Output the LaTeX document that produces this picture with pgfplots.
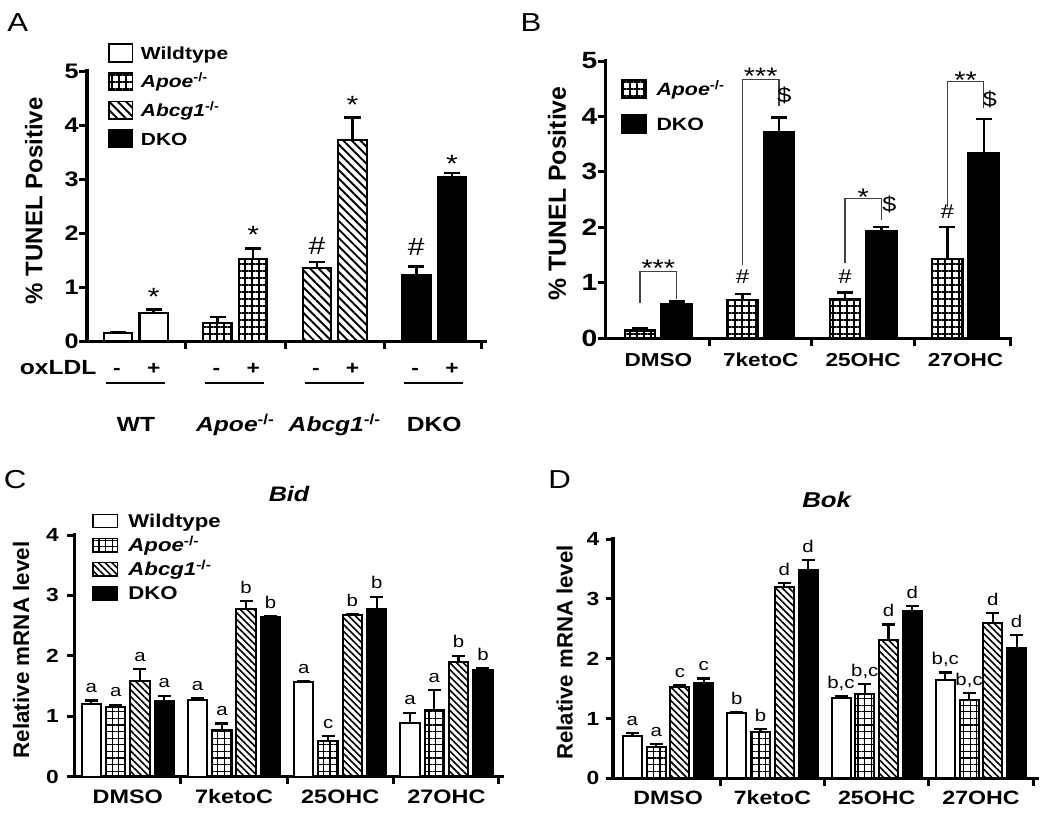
\documentclass[border=0pt]{standalone}
\usepackage{fontspec}
\setmainfont{Liberation Sans}[FakeStretch=1.2]
\newfontfamily\rotfont{Liberation Sans}
\usepackage{pgfplots}
\pgfplotsset{compat=1.18}
\usetikzlibrary{patterns.meta}
\newcommand\fs[1]{\fontsize{#1}{#1}\selectfont}
\newcommand\ko{\textsuperscript{-/-}}
\newcommand\lt[3]{\node[anchor=base, font=\fs{17}] at (axis cs:#1,#2) {#3};}
\newcommand\pmsigns[1]{%
  \node[anchor=base, font=\bfseries\fs{19}] at (axis cs:#1-0.19,-0.62) {-};
  \node[anchor=base, font=\bfseries\fs{19}] at (axis cs:#1+0.18,-0.62) {+};
  \draw[line width=2pt] (axis cs:#1-0.30,-0.775) -- (axis cs:#1+0.29,-0.775);}
\pgfplotsset{
  panel/.style={
    scale only axis, clip=false,
    axis lines=left,
    axis line style={-, line width=3.5pt, line cap=rect},
    every outer x axis line/.append style={-},
    every outer y axis line/.append style={-},
    every inner x axis line/.append style={-},
    every inner y axis line/.append style={-},
    x axis line style={-, line width=3.5pt, line cap=rect},
    y axis line style={-, line width=3.5pt, line cap=rect},
    tick align=outside,
    tick style={line width=3pt, black},
    minor tick num=0,
    xticklabel=\empty,
    ymin=0,
    /pgf/number format/assume math mode=true,
    legend cell align=left,
  },
  bAB/.style={ybar, bar shift=0pt, bar width=#1, draw=black, line width=2.2pt,
    error bars/y dir=plus, error bars/y explicit,
    error bars/error bar style={line width=2.5pt, black},
    error bars/error mark options={rotate=90, line width=2.5pt, black, mark size=8pt}},
  bCD/.style={ybar, bar shift=0pt, bar width=#1, draw=black, line width=2pt,
    error bars/y dir=plus, error bars/y explicit,
    error bars/error bar style={line width=2.2pt, black},
    error bars/error mark options={rotate=90, line width=2.2pt, black, mark size=6.5pt}},
  legA/.style={legend image code/.code={\draw[##1, line width=1.6pt] (0pt,-8.85pt) rectangle (23.4pt,8.85pt);}},
  legB/.style={legend image code/.code={\draw[##1, line width=1.6pt] (0pt,-9pt) rectangle (23.7pt,9pt);}},
  legC/.style={legend image code/.code={\draw[##1, line width=1.6pt] (0pt,-6.6pt) rectangle (24.5pt,6.6pt);}},
  gridAB/.style={pattern={Hatch[distance=7pt, line width=1.4pt]}},
  diagAB/.style={pattern={Lines[angle=-45, distance=6pt, line width=1.9pt]}},
  gridCD/.style={pattern={Hatch[distance=6.6pt, line width=1.3pt]}},
  diagCD/.style={pattern={Lines[angle=-45, distance=4.8pt, line width=1.6pt]}},
}
\tikzset{bk/.style={line width=1.3pt, black!75}}
\begin{document}
\begin{tikzpicture}
\path[use as bounding box] (0pt,0pt) rectangle (1050pt,-824pt);

% ---------------- Panel A ----------------
\begin{axis}[panel, yticklabel style={font=\bfseries\fs{21}, inner sep=0pt},
  at={(86.9pt,-341.3pt)}, anchor=south west,
  width=398.1pt, height=270.3pt, xmin=0.507, xmax=4.512, ymax=5,
  ytick={0,1,2,3,4,5}, xtick={1.5,2.5,3.5,4.472}, major tick length=8pt,
  legend style={draw=none, fill=none, inner sep=0pt, outer sep=0pt,
    row sep=9.2pt, column sep=7.6pt, at={(0.0538,1.1025)}, anchor=north west,
    nodes={inner sep=0pt, text height=16pt, text depth=3.4pt, font=\bfseries\fs{17.5}}}]
\addplot[bAB=0.287, legA, fill=white] coordinates {(0.821,0.16) +- (0,0.015) (1.179,0.53) +- (0,0.06)};
\addlegendentry{Wildtype}
\addplot[bAB=0.287, legA, gridAB] coordinates {(1.821,0.34) +- (0,0.11) (2.179,1.52) +- (0,0.20)};
\addlegendentry{\textit{Apoe}\ko}
\addplot[bAB=0.287, legA, diagAB] coordinates {(2.821,1.35) +- (0,0.12) (3.179,3.72) +- (0,0.42)};
\addlegendentry{\textit{Abcg1}\ko}
\addplot[bAB=0.287, legA, fill=black] coordinates {(3.821,1.22) +- (0,0.16) (4.179,3.03) +- (0,0.08)};
\addlegendentry{DKO}
\node[anchor=north, font=\fs{25}] at (axis cs:1.179,1.04) {*};
\node[anchor=north, font=\fs{25}] at (axis cs:2.179,2.19) {*};
\node[anchor=north, font=\fs{25}] at (axis cs:3.179,4.60) {*};
\node[anchor=north, font=\fs{25}] at (axis cs:4.179,3.51) {*};
\node[anchor=south, font=\fs{25}] at (axis cs:2.821,1.535) {\#};
\node[anchor=south, font=\fs{25}] at (axis cs:3.821,1.52) {\#};
\node[anchor=base east, font=\bfseries\fs{20.5}] at (axis cs:0.639,-0.62) {oxLDL};
\pmsigns{1}\pmsigns{2}\pmsigns{3}\pmsigns{4}
\node[anchor=base, font=\bfseries\fs{20.5}] at (axis cs:1,-1.67) {WT};
\node[anchor=base, font=\bfseries\fs{20.5}] at (axis cs:2,-1.67) {\textit{Apoe}\ko};
\node[anchor=base, font=\bfseries\fs{20.5}] at (axis cs:3,-1.67) {\textit{Abcg1}\ko};
\node[anchor=base, font=\bfseries\fs{20.5}] at (axis cs:4,-1.67) {DKO};
\end{axis}

% ---------------- Panel B ----------------
\begin{axis}[panel, yticklabel style={font=\bfseries\fs{23.5}, inner sep=0pt},
  at={(605.5pt,-338.3pt)}, anchor=south west,
  width=404.7pt, height=277.3pt, xmin=0.484, xmax=4.436, ymax=5,
  ytick={0,1,2,3,4,5}, xtick={1.5,2.5,3.5,4.436}, major tick length=8pt,
  legend style={draw=none, fill=none, inner sep=0pt, outer sep=0pt,
    row sep=15pt, column sep=9.8pt, at={(0.0393,0.9344)}, anchor=north west,
    nodes={inner sep=0pt, text height=16.4pt, text depth=3.6pt, font=\bfseries\fs{17.8}}}]
\addplot[bAB=0.298, legB, gridAB] coordinates {(0.822,0.14) +- (0,0.04) (1.822,0.69) +- (0,0.11) (2.822,0.70) +- (0,0.13) (3.822,1.43) +- (0,0.58)};
\addlegendentry{\textit{Apoe}\ko}
\addplot[bAB=0.298, legB, fill=black] coordinates {(1.178,0.61) +- (0,0.05) (2.178,3.71) +- (0,0.27) (3.178,1.94) +- (0,0.07) (4.178,3.34) +- (0,0.61)};
\addlegendentry{DKO}
\draw[bk] (axis cs:0.822,0.64) -- (axis cs:0.822,1.20) -- (axis cs:1.178,1.20) -- (axis cs:1.178,0.70);
\draw[bk] (axis cs:1.822,1.32) -- (axis cs:1.822,4.67) -- (axis cs:2.178,4.67) -- (axis cs:2.178,4.19);
\draw[bk] (axis cs:2.822,1.35) -- (axis cs:2.822,2.52) -- (axis cs:3.178,2.52) -- (axis cs:3.178,2.13);
\draw[bk] (axis cs:3.822,2.37) -- (axis cs:3.822,4.63) -- (axis cs:4.178,4.63) -- (axis cs:4.178,4.15);
\node[anchor=north, font=\fs{24}] at (axis cs:1.0,1.47) {***};
\node[anchor=north, font=\fs{24}] at (axis cs:2.0,4.93) {***};
\node[anchor=north, font=\fs{24}] at (axis cs:3.0,2.76) {*};
\node[anchor=north, font=\fs{24}] at (axis cs:4.0,4.87) {**};
\node[anchor=south, font=\fs{21}] at (axis cs:2.23,4.165) {\$};
\node[anchor=south, font=\fs{21}] at (axis cs:3.255,2.19) {\$};
\node[anchor=south, font=\fs{21}] at (axis cs:4.238,4.09) {\$};
\node[anchor=south, font=\fs{20}] at (axis cs:1.822,0.93) {\#};
\node[anchor=south, font=\fs{20}] at (axis cs:2.822,0.93) {\#};
\node[anchor=south, font=\fs{20}] at (axis cs:3.822,2.10) {\#};
\node[anchor=base, font=\bfseries\fs{18.8}] at (axis cs:1,-0.512) {DMSO};
\node[anchor=base, font=\bfseries\fs{18.8}] at (axis cs:2,-0.512) {7ketoC};
\node[anchor=base, font=\bfseries\fs{18.8}] at (axis cs:3,-0.512) {25OHC};
\node[anchor=base, font=\bfseries\fs{18.8}] at (axis cs:4,-0.512) {27OHC};
\end{axis}

% ---------------- Panel C ----------------
\begin{axis}[panel, yticklabel style={font=\bfseries\fs{19}, inner sep=0pt, xshift=-8pt},
  at={(74.4pt,-776.7pt)}, anchor=south west,
  width=427.6pt, height=241.7pt, xmin=0.497, xmax=4.523, ymax=4,
  ytick={0,1,2,3,4}, xtick={1.5,2.5,3.5,4.491}, major tick length=7.5pt,
  legend style={draw=none, fill=none, inner sep=0pt, outer sep=0pt,
    row sep=4.1pt, column sep=10pt, at={(0.0419,1.0993)}, anchor=north west,
    nodes={inner sep=0pt, text height=16.6pt, text depth=3.4pt, font=\bfseries\fs{18.5}}}]
\addplot[bCD=0.182, legC, fill=white] coordinates {(0.656,1.20) +- (0,0.06) (1.656,1.27) +- (0,0.03) (2.656,1.57) +- (0,0.015) (3.656,0.89) +- (0,0.17)};
\addlegendentry{Wildtype}
\addplot[bCD=0.182, legC, gridCD] coordinates {(0.886,1.16) +- (0,0.03) (1.886,0.77) +- (0,0.11) (2.886,0.59) +- (0,0.08) (3.886,1.10) +- (0,0.33)};
\addlegendentry{\textit{Apoe}\ko}
\addplot[bCD=0.182, legC, diagCD] coordinates {(1.114,1.59) +- (0,0.19) (2.114,2.77) +- (0,0.14) (3.114,2.68) +- (0,0.01) (4.114,1.90) +- (0,0.10)};
\addlegendentry{\textit{Abcg1}\ko}
\addplot[bCD=0.182, legC, fill=black] coordinates {(1.344,1.25) +- (0,0.09) (2.344,2.64) +- (0,0.01) (3.344,2.77) +- (0,0.21) (4.344,1.76) +- (0,0.03)};
\addlegendentry{DKO}
\lt{0.656}{1.39}{a}\lt{0.886}{1.32}{a}\lt{1.114}{1.91}{a}\lt{1.344}{1.47}{a}
\lt{1.656}{1.43}{a}\lt{1.886}{1.01}{a}\lt{2.114}{3.04}{b}\lt{2.344}{2.78}{b}
\lt{2.656}{1.71}{a}\lt{2.886}{0.80}{c}\lt{3.114}{2.82}{b}\lt{3.344}{3.11}{b}
\lt{3.656}{1.19}{a}\lt{3.886}{1.56}{a}\lt{4.114}{2.13}{b}\lt{4.344}{1.92}{b}
\node[anchor=base, font=\bfseries\itshape\fs{21}] at (axis cs:2.518,4.55) {Bid};
\node[anchor=base, font=\bfseries\fs{19.5}] at (axis cs:1,-0.44) {DMSO};
\node[anchor=base, font=\bfseries\fs{19.5}] at (axis cs:2,-0.44) {7ketoC};
\node[anchor=base, font=\bfseries\fs{19.5}] at (axis cs:3,-0.44) {25OHC};
\node[anchor=base, font=\bfseries\fs{19.5}] at (axis cs:4,-0.44) {27OHC};
\end{axis}

% ---------------- Panel D ----------------
\begin{axis}[panel, yticklabel style={font=\bfseries\fs{19}, inner sep=0pt, xshift=-6pt},
  at={(613pt,-778.3pt)}, anchor=south west,
  width=424.2pt, height=239.3pt, xmin=0.472, xmax=4.539, ymax=4,
  ytick={0,1,2,3,4}, xtick={1.5,2.5,3.5,4.507}, major tick length=7.5pt]
\addplot[bCD=0.182, fill=white] coordinates {(0.658,0.71) +- (0,0.05) (1.658,1.10) +- (0,0.015) (2.658,1.35) +- (0,0.02) (3.658,1.65) +- (0,0.12)};
\addplot[bCD=0.182, gridCD] coordinates {(0.886,0.53) +- (0,0.04) (1.886,0.78) +- (0,0.04) (2.886,1.41) +- (0,0.17) (3.886,1.31) +- (0,0.11)};
\addplot[bCD=0.182, diagCD] coordinates {(1.114,1.53) +- (0,0.02) (2.114,3.20) +- (0,0.06) (3.114,2.31) +- (0,0.26) (4.114,2.59) +- (0,0.17)};
\addplot[bCD=0.182, fill=black] coordinates {(1.342,1.59) +- (0,0.08) (2.342,3.48) +- (0,0.17) (3.342,2.79) +- (0,0.09) (4.342,2.18) +- (0,0.21)};
\lt{0.658}{0.89}{a}\lt{0.886}{0.70}{a}\lt{1.114}{1.68}{c}\lt{1.342}{1.80}{c}
\lt{1.658}{1.24}{b}\lt{1.886}{0.95}{b}\lt{2.114}{3.39}{d}\lt{2.342}{3.78}{d}
\lt{2.658}{1.50}{b,c}\lt{2.886}{1.71}{b,c}\lt{3.114}{2.70}{d}\lt{3.342}{3.01}{d}
\lt{3.658}{1.90}{b,c}\lt{3.886}{1.55}{b,c}\lt{4.114}{2.89}{d}\lt{4.342}{2.52}{d}
\node[anchor=base, font=\bfseries\itshape\fs{21.5}] at (axis cs:2.52,4.53) {Bok};
\node[anchor=base, font=\bfseries\fs{19.3}] at (axis cs:1,-0.446) {DMSO};
\node[anchor=base, font=\bfseries\fs{19.3}] at (axis cs:2,-0.446) {7ketoC};
\node[anchor=base, font=\bfseries\fs{19.3}] at (axis cs:3,-0.446) {25OHC};
\node[anchor=base, font=\bfseries\fs{19.3}] at (axis cs:4,-0.446) {27OHC};
\end{axis}

% ---------------- Labels ----------------
\node[anchor=base, font=\fs{26}] at (17.7pt,-31.7pt) {A};
\node[anchor=base, font=\fs{26}] at (531pt,-31.7pt) {B};
\node[anchor=base, font=\fs{26}] at (15.2pt,-488.3pt) {C};
\node[anchor=base, font=\fs{26}] at (559.7pt,-488.3pt) {D};
\node[rotate=90, font=\rotfont\bfseries\fs{24}] at (33.8pt,-200.8pt) {\% TUNEL Positive};
\node[rotate=90, font=\rotfont\bfseries\fs{24.8}] at (557pt,-193.3pt) {\% TUNEL Positive};
\node[rotate=90, font=\rotfont\bfseries\fs{22.4}] at (21.1pt,-650pt) {Relative mRNA level};
\node[rotate=90, font=\rotfont\bfseries\fs{22.2}] at (564.8pt,-652.5pt) {Relative mRNA level};
\end{tikzpicture}
\end{document}
